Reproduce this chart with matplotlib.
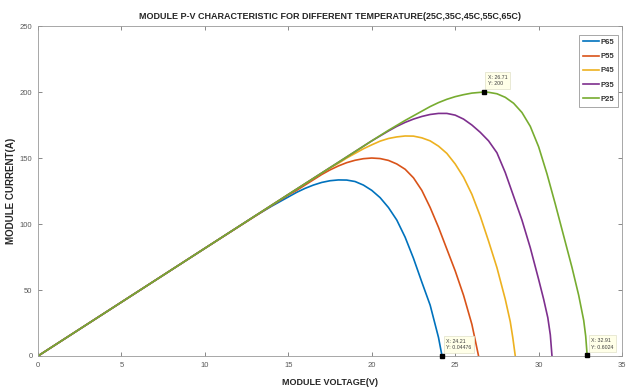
import numpy as np
import matplotlib
matplotlib.use("Agg")
import matplotlib.pyplot as plt

# values (voltage V, power P)
v65 = [0, 5, 10, 13, 14, 15, 15.5, 16, 16.5, 17, 17.5, 18, 18.5, 19, 19.5, 20, 20.5, 21,
       21.5, 22, 22.5, 23, 23.5, 24, 24.21]
p65 = [0, 40.8, 81.6, 106, 113.5, 120.5, 124, 127, 129.5, 131.5, 132.8, 133.4, 133.3, 132.2,
       129.5, 125.5, 120, 112.5, 103, 90, 74, 56, 38.5, 14, 0]

v55 = [0, 5, 10, 15, 15.5, 16, 16.5, 17, 17.5, 18, 18.5, 19, 19.5, 20, 20.5, 21, 21.5, 22,
       22.5, 23, 23.5, 24, 24.5, 25, 25.5, 26, 26.4]
p55 = [0, 40.8, 81.6, 122, 125.5, 129.5, 133.5, 137.5, 141, 144, 146.5, 148.3, 149.5, 150,
       149.6, 148.2, 145.5, 141.5, 135, 125.5, 112.5, 97.5, 81, 64.5, 46, 24, 0]

v45 = [0, 5, 10, 15, 17, 17.5, 18, 18.5, 19, 19.5, 20, 20.5, 21, 21.5, 22, 22.5, 23, 23.5,
       24, 24.5, 25, 25.5, 26, 26.5, 27, 27.5, 28, 28.3, 28.45, 28.6]
p45 = [0, 40.8, 81.6, 122.4, 138.5, 142.5, 146, 150, 153.5, 157, 160, 162.8, 164.8, 166,
       166.7, 166.6, 165.3, 163, 159, 153.5, 145.5, 135.5, 122.5, 106, 87, 67, 43, 26, 14, 0]

v35 = [0, 5, 10, 15, 20, 21, 21.5, 22, 22.5, 23, 23.5, 24, 24.5, 25, 25.5, 26, 26.5, 27,
       27.5, 28, 28.5, 29, 29.5, 30, 30.3, 30.55, 30.7, 30.8]
p35 = [0, 40.8, 81.6, 122.4, 163, 170.5, 174, 177, 179.5, 181.5, 183, 183.8, 183.8, 182.5,
       179.5, 175, 169.5, 163, 154, 139, 121, 103, 82, 58, 43, 29, 16, 0]

v25 = [0, 5, 10, 15, 20, 21, 22, 22.5, 23, 23.5, 24, 24.5, 25, 25.5, 26, 26.71, 27, 27.5,
       28, 28.5, 29, 29.5, 30, 30.5, 31, 31.5, 32, 32.4, 32.7, 32.82, 32.91]
p25 = [0, 40.8, 81.6, 122.4, 163, 171, 178.5, 182, 185.5, 189, 192, 194.5, 196.5, 198, 199.2,
       200, 199.8, 198.7, 196, 191.5, 184.5, 174, 158.5, 138, 115, 91, 67, 46, 27, 15, 0]

labels = ["P65", "P55", "P45", "P35", "P25"]
colors = ["#0072BD", "#D95319", "#EDB120", "#7E2F8E", "#77AC30"]

tips_x = [26.71, 24.21, 32.91]
tips_y = [200, 0.04476, 0.6024]
tips_txt = ["X: 26.71\nY: 200", "X: 24.21\nY: 0.04476", "X: 32.91\nY: 0.6024"]

plt.rcParams["font.family"] = ["Liberation Sans Narrow", "Liberation Sans", "DejaVu Sans"]

fig = plt.figure(figsize=(6.29, 3.90), dpi=100)
ax = fig.add_axes([0.0604, 0.0872, 0.9286, 0.846])

for v, p, lab, c in zip([v65, v55, v45, v35, v25], [p65, p55, p45, p35, p25], labels, colors):
    ax.plot(v, p, color=c, lw=1.2, label=lab)

ax.plot(tips_x, tips_y, "ks", ms=3, clip_on=False, zorder=5)
for x, y, t in zip(tips_x, tips_y, tips_txt):
    ax.annotate(t, (x, y), xytext=(3, 4), textcoords="offset points", fontsize=3.8,
                va="bottom", ha="left", color="0.25", linespacing=1.4,
                bbox=dict(boxstyle="square,pad=0.5", fc="#FFFFE8", ec="#E0E0C8", lw=0.5))

ax.set_xlim(0, 35)
ax.set_ylim(0, 250)
ax.set_xticks(range(0, 36, 5))
ax.set_yticks(range(0, 251, 50))
ax.tick_params(direction="in", length=3, width=0.5, labelsize=5.5, colors="0.35",
               top=True, right=True, pad=4)
for s in ax.spines.values():
    s.set_color("0.6")
    s.set_linewidth(0.6)

ax.set_title("MODULE P-V CHARACTERISTIC FOR DIFFERENT TEMPERATURE(25C,35C,45C,55C,65C)",
             fontsize=6.5, fontweight="bold", color="0.15", pad=5)
ax.set_xlabel("MODULE VOLTAGE(V)", fontsize=6.5, fontweight="bold", color="0.15", labelpad=7)
ax.set_ylabel("MODULE CURRENT(A)", fontsize=7, fontweight="bold", color="0.15", labelpad=3)

leg = ax.legend(loc="upper right", fontsize=5.5, handlelength=2.0, handletextpad=0.3,
                borderpad=0.5, labelspacing=0.9, fancybox=False, framealpha=1,
                bbox_to_anchor=(1.0, 0.985))
leg.get_frame().set_edgecolor("0.6")
leg.get_frame().set_linewidth(0.6)
for t in leg.get_texts():
    t.set_fontweight("bold")
    t.set_color("0.2")

fig.savefig("out.png", dpi=100)
